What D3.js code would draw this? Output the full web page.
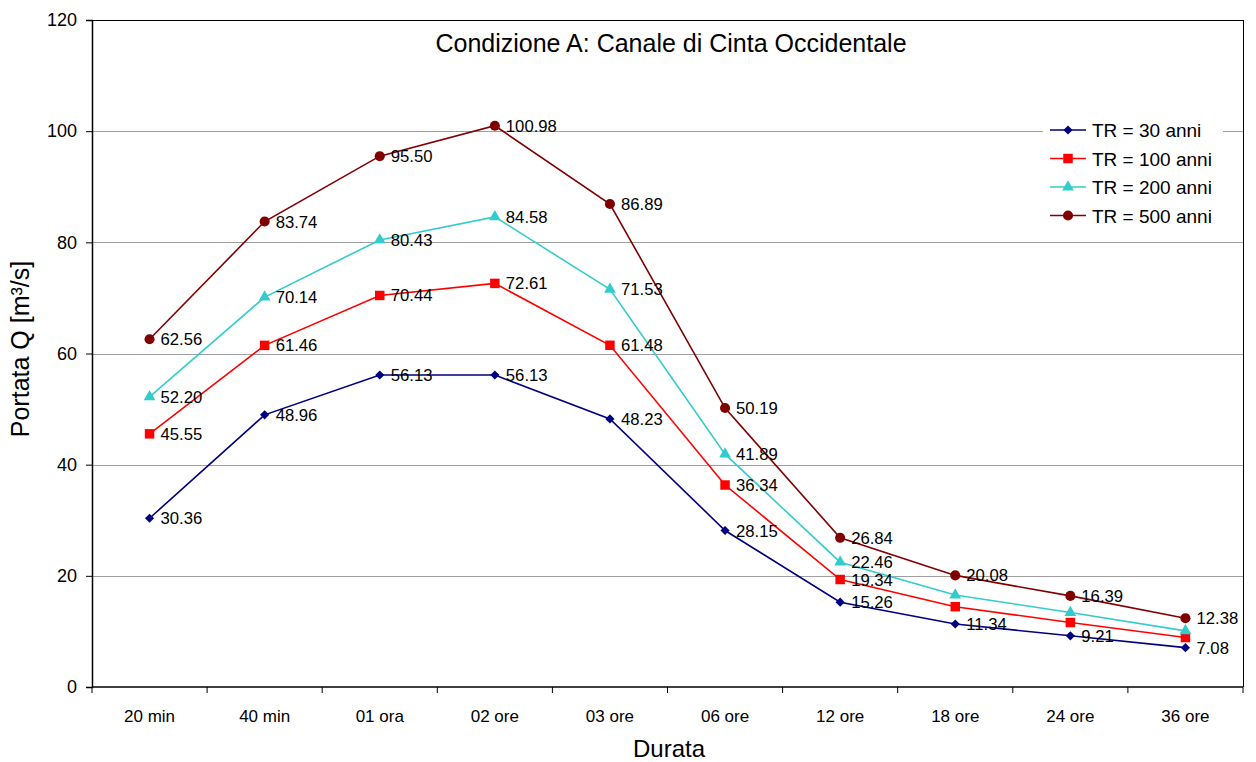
<!DOCTYPE html>
<html>
<head>
<meta charset="utf-8">
<script src="https://cdn.jsdelivr.net/npm/d3@7"></script>
<style>
  html, body { margin: 0; padding: 0; background: #fff; }
  svg { display: block; font-family: "Liberation Sans", Arial, sans-serif; }
</style>
</head>
<body>
<svg id="chart" width="1256" height="762"></svg>
<script>
// Durations and peak discharges per return period
const categories = ["20 min", "40 min", "01 ora", "02 ore", "03 ore", "06 ore", "12 ore", "18 ore", "24 ore", "36 ore"];
const tr30  = [30.36, 48.96, 56.13, 56.13, 48.23, 28.15, 15.26, 11.34, 9.21, 7.08];
const tr100 = [45.55, 61.46, 70.44, 72.61, 61.48, 36.34, 19.34, 14.45, 11.6, 8.9];
const tr200 = [52.20, 70.14, 80.43, 84.58, 71.53, 41.89, 22.46, 16.55, 13.4, 10.1];
const tr500 = [62.56, 83.74, 95.50, 100.98, 86.89, 50.19, 26.84, 20.08, 16.39, 12.38];
// number of points carrying a value label in each series
const labelCount = [10, 7, 7, 10];
const seriesNames = ["TR = 30 anni", "TR = 100 anni", "TR = 200 anni", "TR = 500 anni"];
const yTicks = [0, 20, 40, 60, 80, 100, 120];

const series = [
  { name: seriesNames[0], values: tr30,  color: "#000080", symbol: d3.symbolSquare,   size: 42, rot: 45, labels: labelCount[0] },
  { name: seriesNames[1], values: tr100, color: "#FF0000", symbol: d3.symbolSquare,   size: 90, rot: 0,  labels: labelCount[1] },
  { name: seriesNames[2], values: tr200, color: "#33CCCC", symbol: d3.symbolTriangle, size: 60, rot: 0,  labels: labelCount[2] },
  { name: seriesNames[3], values: tr500, color: "#800000", symbol: d3.symbolCircle,   size: 80, rot: 0,  labels: labelCount[3] }
];

const svg = d3.select("#chart");
const plotL = 92, plotR = 1243, plotT = 20, plotB = 687;

const x = d3.scaleBand().domain(categories).range([plotL, plotR]).padding(0);
const y = d3.scaleLinear().domain([0, 120]).range([plotB, plotT]);

// horizontal gridlines
svg.append("g")
  .selectAll("line")
  .data(yTicks.filter(t => t > 0 && t < 120))
  .join("line")
  .attr("x1", plotL).attr("x2", plotR)
  .attr("y1", d => Math.round(y(d)) + 0.5).attr("y2", d => Math.round(y(d)) + 0.5)
  .attr("stroke", "#a0a0a0").attr("stroke-width", 1);

// frame top and right
svg.append("line").attr("x1", plotL).attr("x2", plotR).attr("y1", plotT + 0.5).attr("y2", plotT + 0.5)
  .attr("stroke", "#000").attr("stroke-width", 1);
svg.append("line").attr("x1", plotR + 0.5).attr("x2", plotR + 0.5).attr("y1", plotT).attr("y2", plotB)
  .attr("stroke", "#000").attr("stroke-width", 1);

// y axis
const yAxis = svg.append("g")
  .attr("transform", `translate(${plotL},0)`)
  .call(d3.axisLeft(y).tickValues(yTicks).tickSize(6).tickPadding(9));
yAxis.select(".domain").attr("stroke", "#000").attr("stroke-width", 1.5);
yAxis.selectAll(".tick line").attr("stroke", "#000");
yAxis.selectAll(".tick text").attr("font-size", 18).attr("fill", "#000")
  .attr("font-family", "Liberation Sans, Arial, sans-serif");

// x axis: ticks on category boundaries
const xAxis = svg.append("g").attr("transform", `translate(0,${plotB})`);
xAxis.append("line").attr("x1", plotL).attr("x2", plotR).attr("y1", 0).attr("y2", 0)
  .attr("stroke", "#000").attr("stroke-width", 1.5);
const bounds = categories.map(c => x(c)).concat([x(categories[categories.length - 1]) + x.bandwidth()]);
xAxis.selectAll("line.tk").data(bounds).join("line").attr("class", "tk")
  .attr("x1", d => d).attr("x2", d => d).attr("y1", 0).attr("y2", 6)
  .attr("stroke", "#000");
xAxis.selectAll("text").data(categories).join("text")
  .attr("x", d => x(d) + x.bandwidth() / 2).attr("y", 35)
  .attr("text-anchor", "middle").attr("font-size", 17).attr("fill", "#000")
  .text(d => d);

// axis titles
svg.append("text").attr("x", 669).attr("y", 757).attr("text-anchor", "middle")
  .attr("font-size", 24).text("Durata");
svg.append("text").attr("transform", `translate(29,349) rotate(-90)`)
  .attr("text-anchor", "middle").attr("font-size", 25).text("Portata Q [m³/s]");

// chart title
svg.append("text").attr("x", 671).attr("y", 52).attr("text-anchor", "middle")
  .attr("font-size", 25).text("Condizione A: Canale di Cinta Occidentale");

const cx = c => x(c) + x.bandwidth() / 2;
const line = d3.line().x((d, i) => cx(categories[i])).y(d => y(d));
const marker = s => d3.symbol().type(s.symbol).size(s.size)();

series.forEach(s => {
  const g = svg.append("g");
  g.append("path").datum(s.values).attr("d", line)
    .attr("fill", "none").attr("stroke", s.color).attr("stroke-width", 1.6);
  g.selectAll("path.mk").data(s.values).join("path").attr("class", "mk")
    .attr("transform", (d, i) => `translate(${cx(categories[i])},${y(d)}) rotate(${s.rot})`)
    .attr("d", marker(s))
    .attr("fill", s.color);
});

// value labels
series.forEach(s => {
  svg.append("g").selectAll("text").data(s.values.slice(0, s.labels)).join("text")
    .attr("x", (d, i) => cx(categories[i]) + 11)
    .attr("y", d => y(d) + 6)
    .attr("font-size", 16.7).attr("fill", "#000")
    .text(d => d.toFixed(2));
});

// legend
const legend = svg.append("g").attr("transform", "translate(1043,116)");
legend.append("rect").attr("x", 0).attr("y", 0).attr("width", 180).attr("height", 114).attr("fill", "#fff");
series.forEach((s, i) => {
  const yy = 14 + i * 28.5;
  legend.append("line").attr("x1", 7).attr("x2", 43).attr("y1", yy).attr("y2", yy)
    .attr("stroke", s.color).attr("stroke-width", 1.6);
  legend.append("path").attr("transform", `translate(25,${yy}) rotate(${s.rot})`)
    .attr("d", marker(s)).attr("fill", s.color);
  legend.append("text").attr("x", 49).attr("y", yy + 7).attr("font-size", 19).text(s.name);
});
</script>
</body>
</html>
